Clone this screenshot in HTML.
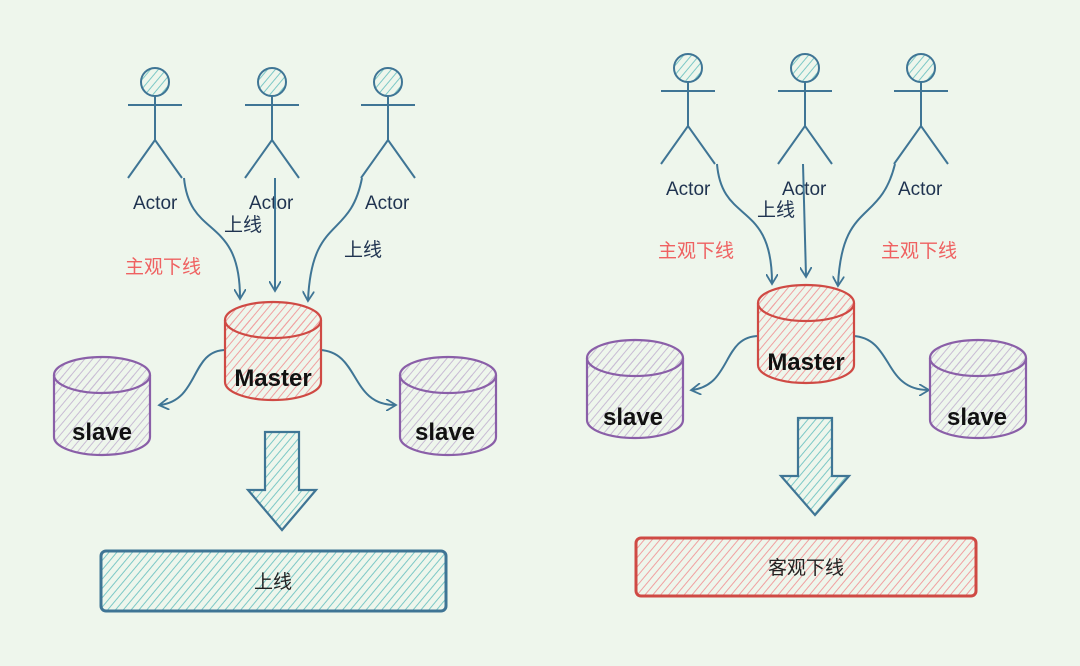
<!DOCTYPE html>
<html><head><meta charset="utf-8"><style>
html,body{margin:0;padding:0;background:#eef6ec;}
svg{display:block}
text{font-family:"Liberation Sans","Noto Sans CJK SC",sans-serif;}
</style></head><body>
<svg width="1080" height="666" viewBox="0 0 1080 666">
<defs>
<pattern id="hb" width="6" height="6" patternUnits="userSpaceOnUse" patternTransform="rotate(40)"><line x1="0" y1="0" x2="0" y2="6" stroke="#7cc8c6" stroke-width="2"/></pattern>
<pattern id="hr" width="6" height="6" patternUnits="userSpaceOnUse" patternTransform="rotate(40)"><line x1="0" y1="0" x2="0" y2="6" stroke="#f0a0a0" stroke-width="2"/></pattern>
<pattern id="hp" width="6" height="6" patternUnits="userSpaceOnUse" patternTransform="rotate(40)"><line x1="0" y1="0" x2="0" y2="6" stroke="#c8bcd4" stroke-width="2"/></pattern>
<marker id="ah" markerWidth="12" markerHeight="12" refX="9" refY="6" orient="auto" markerUnits="userSpaceOnUse"><path d="M0,0 L10,6 L0,12" fill="none" stroke="#3f7595" stroke-width="1.8"/></marker>
<g id="actor" stroke="#3f7595" stroke-width="2" fill="none">
<circle cx="0" cy="0" r="14" fill="url(#hb)"/>
<line x1="0" y1="14" x2="0" y2="58"/>
<line x1="-27" y1="23" x2="27" y2="23"/>
<path d="M-27,96 L0,58 L27,96"/>
</g>
<g id="cyl">
<path d="M-48,0 L-48,62 A48,18 0 0 0 48,62 L48,0" />
<ellipse cx="0" cy="0" rx="48" ry="18"/>
</g>
</defs>

<!-- LEFT -->
<use href="#actor" x="155" y="82"/><use href="#actor" x="272" y="82"/><use href="#actor" x="388" y="82"/>
<g font-size="19" fill="#1f3350">
<text x="133" y="209">Actor</text><text x="249" y="209">Actor</text><text x="365" y="209">Actor</text>
<text x="224" y="231">上线</text><text x="344" y="256">上线</text>
</g>
<text x="125" y="273" font-size="19" fill="#ef6161">主观下线</text>
<g stroke="#3f7595" stroke-width="2" fill="none" marker-end="url(#ah)">
<path d="M184,178 C190,240 240,215 240,298"/>
<path d="M275,178 L275,290"/>
<path d="M362,178 C350,240 312,215 308,300"/>
<path d="M226,350 C190,350 200,400 160,405"/>
<path d="M320,350 C360,352 350,405 395,405"/>
</g>
<g stroke="#cf4a44" stroke-width="2.2" fill="url(#hr)"><use href="#cyl" x="273" y="320"/></g>
<g stroke="#8a5fa8" stroke-width="2.2" fill="url(#hp)"><use href="#cyl" x="102" y="375"/><use href="#cyl" x="448" y="375"/></g>
<g font-size="24" font-weight="bold" fill="#111">
<text x="273" y="386" text-anchor="middle">Master</text>
<text x="102" y="440" text-anchor="middle">slave</text>
<text x="445" y="440" text-anchor="middle">slave</text>
</g>
<path d="M265,432 L299,432 L299,490 L316,490 L282,530 L248,490 L265,490 Z" fill="url(#hb)" stroke="#3f7595" stroke-width="2.2"/>
<rect x="101" y="551" width="345" height="60" rx="5" fill="url(#hb)" stroke="#3f7595" stroke-width="3"/>
<text x="273" y="588" font-size="19" fill="#222" text-anchor="middle">上线</text>

<!-- RIGHT -->
<use href="#actor" x="688" y="68"/><use href="#actor" x="805" y="68"/><use href="#actor" x="921" y="68"/>
<g font-size="19" fill="#1f3350">
<text x="666" y="195">Actor</text><text x="782" y="195">Actor</text><text x="898" y="195">Actor</text>
<text x="757" y="216">上线</text>
</g>
<g font-size="19" fill="#ef6161"><text x="658" y="257">主观下线</text><text x="881" y="257">主观下线</text></g>
<g stroke="#3f7595" stroke-width="2" fill="none" marker-end="url(#ah)">
<path d="M717,164 C722,225 772,200 772,283"/>
<path d="M803,164 L806,276"/>
<path d="M895,164 C880,225 842,200 838,285"/>
<path d="M759,336 C722,336 732,385 692,390"/>
<path d="M853,336 C893,338 883,390 928,390"/>
</g>
<g stroke="#cf4a44" stroke-width="2.2" fill="url(#hr)"><use href="#cyl" x="806" y="303"/></g>
<g stroke="#8a5fa8" stroke-width="2.2" fill="url(#hp)"><use href="#cyl" x="635" y="358"/><use href="#cyl" x="978" y="358"/></g>
<g font-size="24" font-weight="bold" fill="#111">
<text x="806" y="370" text-anchor="middle">Master</text>
<text x="633" y="425" text-anchor="middle">slave</text>
<text x="977" y="425" text-anchor="middle">slave</text>
</g>
<path d="M798,418 L832,418 L832,476 L849,476 L815,515 L781,476 L798,476 Z" fill="url(#hb)" stroke="#3f7595" stroke-width="2.2"/>
<rect x="636" y="538" width="340" height="58" rx="5" fill="url(#hr)" stroke="#cf4a44" stroke-width="3"/>
<text x="806" y="574" font-size="19" fill="#222" text-anchor="middle">客观下线</text>
</svg>
</body></html>
